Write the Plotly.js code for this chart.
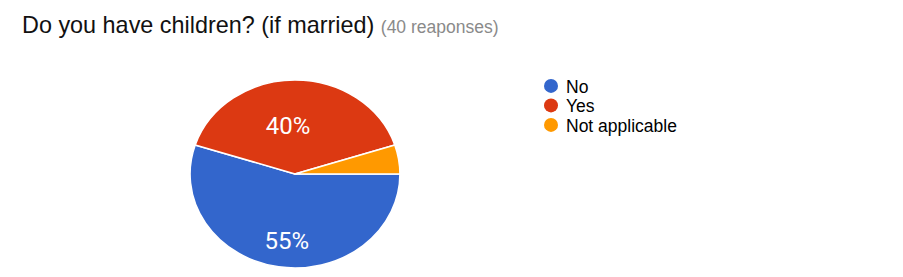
<!DOCTYPE html>
<html><head><meta charset="utf-8">
<script src="https://cdn.plot.ly/plotly-3.0.1.min.js"></script>
<style>body{margin:0;background:#fff}#c{width:903px;height:277px}</style>
</head><body><div id="c"></div>
<script>
const categories = ["No", "Yes", "Not applicable"];
const counts = [22, 16, 2];
const colors = ["#3366cc", "#dc3912", "#ff9900"];
const sliceLabels = ["%{percent:.0%}", "%{percent:.0%}", ""];
const titleMain = "Do you have children? (if married)";
const titleSub = "(40 reaponses)";

const W = 903, H = 277;
const SX = 1.117;
const data = [{
  type: "pie",
  values: counts,
  labels: categories,
  marker: {colors: colors, line: {color: "#ffffff", width: 1.5}},
  sort: false,
  direction: "clockwise",
  rotation: 90,
  texttemplate: sliceLabels,
  textposition: "inside",
  insidetextfont: {color: "#ffffff", size: 24, family: "Roboto, Arial, sans-serif"},
  showlegend: false,
  hoverinfo: "skip",
  domain: {x: [201 / W, 389 / W], y: [(H - 268) / H, (H - 80) / H]}
}];
categories.forEach((c, i) => {
  data.push({type: "scatter", mode: "markers", x: [null], y: [null], name: c,
    marker: {color: colors[i], size: 14, symbol: "circle"}, showlegend: true});
});
const layout = {
  width: W, height: H,
  margin: {l: 0, r: 0, t: 0, b: 0},
  paper_bgcolor: "#ffffff", plot_bgcolor: "#ffffff",
  font: {family: "Liberation Sans, Arial, sans-serif", color: "#000"},
  title: {
    text: titleMain + ' <span style="font-size:17.5px;color:#8a8a8a">' + titleSub + '</span>',
    font: {size: 23.4, color: "#111"},
    x: 22 / W, xanchor: "left", xref: "container",
    y: 1 - 25 / H, yanchor: "middle", yref: "container"
  },
  xaxis: {visible: false}, yaxis: {visible: false},
  legend: {x: 526 / W, xanchor: "left", y: 1 - 68 / H, yanchor: "top",
    font: {size: 17.5, color: "#000"}, bgcolor: "rgba(0,0,0,0)", itemclick: false}
};
Plotly.newPlot("c", data, layout, {displayModeBar: false, staticPlot: true}).then(() => {
  const cx = 295, cy = 174;
  const g = document.querySelector(".pielayer");
  if (g) g.setAttribute("transform", `translate(${cx},${cy}) scale(${SX},1) translate(${-cx},${-cy})`);
  const host = document.getElementById("c").getBoundingClientRect();
  const shiftX = [0, -7, 0];
  const shiftY = [21, 0, 0];
  document.querySelectorAll(".pielayer .slice").forEach((s, i) => {
    const t = s.querySelector(".slicetext");
    if (!t || !t.textContent) return;
    const r = t.getBoundingClientRect();
    const sxC = r.left + r.width / 2 - host.left + (shiftX[i] || 0);
    const syC = r.top + r.height / 2 - host.top + (shiftY[i] || 0);
    const b = t.getBBox();
    const lx = b.x + b.width / 2, ly = b.y + b.height / 2;
    const px = cx + (sxC - cx) / SX;
    t.setAttribute("transform", `translate(${px},${syC}) scale(${1 / SX},1) translate(${-lx},${-ly})`);
  });
  const items = document.querySelectorAll(".legend .traces");
  let y0 = null;
  items.forEach((it, i) => {
    const tr = it.getAttribute("transform") || "";
    const m = tr.match(/translate\(\s*([-\d.e]+)[ ,]+([-\d.e]+)\s*\)/);
    if (!m) return;
    if (y0 === null) y0 = parseFloat(m[2]);
    it.setAttribute("transform", `translate(${m[1]},${y0 + i * 19.5})`);
    const lp = it.querySelector(".legendpoints");
    if (lp) lp.setAttribute("transform", (lp.getAttribute("transform") || "") + " translate(5,0)");
  });
});
</script></body></html>
